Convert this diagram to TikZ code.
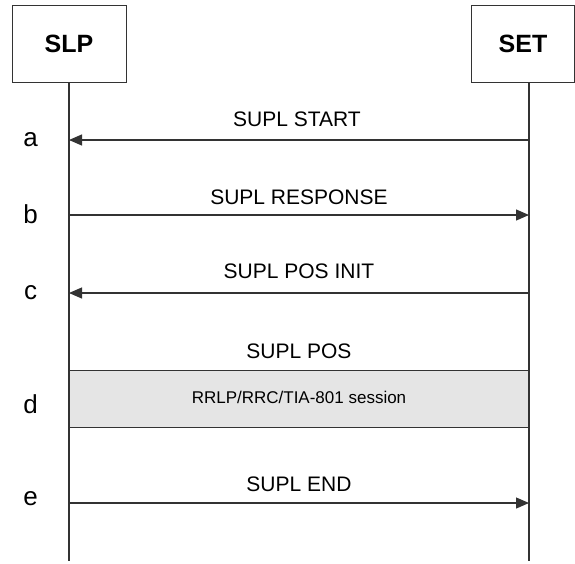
\documentclass[tikz,border=0pt]{standalone}
\usepackage{fontspec}
\setmainfont{Liberation Sans}
\usetikzlibrary{arrows.meta}
\definecolor{linegray}{HTML}{333333}
\begin{document}
\begin{tikzpicture}[x=1pt,y=-1pt,
  entity/.style={draw=linegray,line width=1pt,minimum width=114pt,minimum height=77pt,inner sep=0pt,font=\fontsize{25}{28}\selectfont\bfseries},
  lifeline/.style={draw=linegray,line width=1.2pt},
  msg/.style={draw=linegray,line width=1.2pt,-{Triangle[length=13pt,width=11pt]}},
  msglabel/.style={font=\fontsize{21}{24}\selectfont,inner sep=0pt},
  steplabel/.style={font=\fontsize{26}{28}\selectfont,inner sep=0pt},
  session/.style={draw=linegray,line width=1pt,fill=black!10}]
\useasboundingbox (0,0) rectangle (575,563);
\node[entity] (slp) at (69,43.5) {SLP};
\node[entity,minimum width=103pt] (set) at (523,43.5) {SET};
\coordinate (slpend) at (69,561);
\coordinate (setend) at (529,561);
\coordinate (settop) at (529,82);
% session box
\node[session,minimum width=460pt,minimum height=57pt,inner sep=0pt] (sess) at (299,398.5) {};
\node[font=\fontsize{17}{20}\selectfont,inner sep=0pt] (sesstext) at (299,397) {RRLP/RRC/TIA-801 session};
\draw[lifeline] (slp.south) -- (slpend);
\draw[lifeline] (settop) -- (setend);
% messages
\coordinate (a1) at (529,140); \coordinate (a2) at (69,140);
\coordinate (b1) at (69,215); \coordinate (b2) at (529,215);
\coordinate (c1) at (529,293); \coordinate (c2) at (69,293);
\coordinate (e1) at (69,503); \coordinate (e2) at (529,503);
\draw[msg] (a1) -- (a2);
\draw[msg] (b1) -- (b2);
\draw[msg] (c1) -- (c2);
\draw[msg] (e1) -- (e2);
\node[msglabel] (la) at (297,119) {SUPL START};
\node[msglabel] (lb) at (299,197) {SUPL RESPONSE};
\node[msglabel] (lc) at (299,271) {SUPL POS INIT};
\node[msglabel] (ld) at (299,351) {SUPL POS};
\node[msglabel] (le) at (299,484) {SUPL END};
\node[steplabel] (sa) at (30.5,140) {a};
\node[steplabel] (sb) at (30.5,214) {b};
\node[steplabel] (sc) at (30.5,293) {c};
\node[steplabel] (sd) at (30.5,404) {d};
\node[steplabel] (se) at (30.5,499) {e};
\end{tikzpicture}
\end{document}
